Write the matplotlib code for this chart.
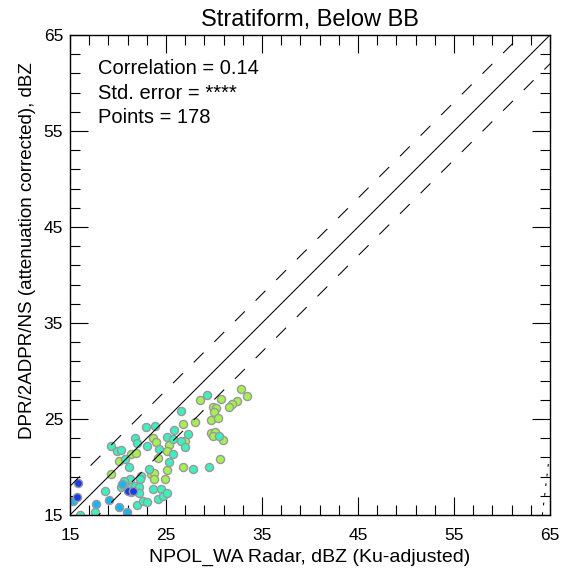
import matplotlib
matplotlib.use('Agg')
import matplotlib.pyplot as plt
import numpy as np
from matplotlib.ticker import FixedLocator

plt.rcParams['font.family'] = ['Liberation Sans', 'DejaVu Sans']
plt.rcParams['lines.scale_dashes'] = False

# ---- data ----
title = "Stratiform, Below BB"
xlabel = "NPOL_WA Radar, dBZ (Ku-adjusted)"
ylabel = "DPR/2ADPR/NS (attenuation corrected), dBZ"
stats_lines = ["Correlation = 0.14", "Std. error = ****", "Points = 178"]
ticks = [15, 25, 35, 45, 55, 65]

blue_x = [15.83, 15.76, 21.04, 21.60]
blue_y = [18.37, 16.84, 17.46, 17.46]

lblue_x = [15.28, 20.42, 21.39, 19.10, 17.74, 20.14, 20.97]
lblue_y = [16.49, 18.23, 17.43, 16.56, 16.11, 15.80, 15.27]

cyan_x = [26.53, 22.88, 23.89, 25.83, 27.29, 21.73, 25.14, 25.76, 26.53, 22.01,
          19.30, 23.05, 26.94, 19.93, 20.35, 24.30, 25.69, 20.76, 25.28, 21.18,
          23.26, 27.81, 22.43, 22.29, 21.25, 20.62, 20.28, 20.76, 21.32, 21.73,
          22.22, 22.22, 23.61, 24.44, 18.61, 22.01, 22.60, 23.05, 24.17, 24.65,
          25.14, 16.04, 17.57, 29.31, 30.56, 29.44]
cyan_y = [25.87, 24.13, 24.27, 23.85, 23.40, 22.98, 23.09, 22.95, 22.71, 22.46,
          22.19, 22.19, 22.12, 21.66, 21.77, 21.84, 21.35, 20.80, 20.55, 19.96,
          19.75, 19.75, 19.09, 18.78, 18.75, 18.57, 17.88, 18.02, 17.88, 18.02,
          17.88, 17.26, 17.74, 17.74, 17.50, 16.00, 16.42, 16.35, 16.66, 16.98,
          17.26, 15.05, 15.34, 27.50, 23.23, 20.03]

green_x = [28.54, 26.80, 27.98, 23.68, 23.99, 27.01, 25.35, 25.07, 21.39, 21.91,
           20.07, 24.17, 25.14, 26.77, 19.23, 23.40, 23.75, 23.75, 24.86, 30.69,
           32.78, 33.47, 32.43, 31.84, 31.60, 29.86, 30.21, 30.00, 29.65, 30.42,
           29.65, 30.14, 29.93, 30.97, 30.63]
green_y = [26.98, 24.51, 24.72, 22.98, 22.64, 22.71, 22.26, 21.66, 21.35, 21.42,
           20.66, 20.97, 19.68, 20.03, 19.27, 19.27, 19.34, 18.71, 18.71, 27.05,
           28.09, 27.43, 26.91, 26.56, 26.21, 26.28, 26.11, 25.69, 24.89, 25.07,
           23.50, 23.68, 23.23, 22.81, 20.87]

ref_line = [15, 65]
band_offset = 3
fit_x = [64.2, 64.85]
fit_y = [15.0, 20.5]

# ---- figure ----
W, H = 564, 571
fig = plt.figure(figsize=(W / 100, H / 100), dpi=100)
ax = fig.add_axes([70 / W, (H - 515) / H, 480 / W, 480 / H])

edge = '#999999'
for xs, ys, col in [(green_x, green_y, '#a6f052'),
                    (cyan_x, cyan_y, '#3cf0c0'),
                    (lblue_x, lblue_y, '#1ab4f5'),
                    (blue_x, blue_y, '#1a3ce8')]:
    ax.scatter(xs, ys, s=34, c=col, edgecolors=edge, linewidths=1.0, zorder=2)

r = np.array(ref_line, dtype=float)
ax.plot(r, r, color='k', lw=0.75, zorder=3)
ax.plot(r, r + band_offset, color='k', lw=0.75, dashes=(10, 11), zorder=3)
ax.plot(r, r - band_offset, color='k', lw=0.75, dashes=(10, 11), zorder=3)
ax.plot(fit_x, fit_y, color='k', lw=0.75, dashes=(2, 5), zorder=3)

ax.set_xlim(15, 65)
ax.set_ylim(15, 65)
for axis in (ax.xaxis, ax.yaxis):
    axis.set_major_locator(FixedLocator(ticks))
    axis.set_minor_locator(FixedLocator(np.arange(15, 66, 2)))
ax.tick_params(which='both', direction='in', top=True, right=True, width=0.8, color='k')
ax.tick_params(which='major', length=13, labelsize=12.5)
ax.tick_params(which='minor', length=7)
ax.tick_params(axis='x', which='major', pad=9)
ax.tick_params(axis='y', which='major', pad=5)
for s in ax.spines.values():
    s.set_linewidth(1.0)

ax.set_xlabel(xlabel, fontsize=14)
ax.xaxis.set_label_coords(0.5, (515 - 557) / 480)
ax.xaxis.label.set_va('center')
ax.set_ylabel(ylabel, fontsize=13.5)
ax.yaxis.set_label_coords((28 - 70) / 480, (515 - 251) / 480)
ax.yaxis.label.set_va('center')

fig.text(310 / W, (H - 26) / H, title, fontsize=17, ha='center', va='baseline')

for i, (t, yb) in enumerate(zip(stats_lines, [74, 99, 123])):
    ax.text((98 - 70) / 480, (515 - yb) / 480, t, transform=ax.transAxes,
            fontsize=14.5, ha='left', va='baseline')

fig.savefig('out.png', dpi=100)
